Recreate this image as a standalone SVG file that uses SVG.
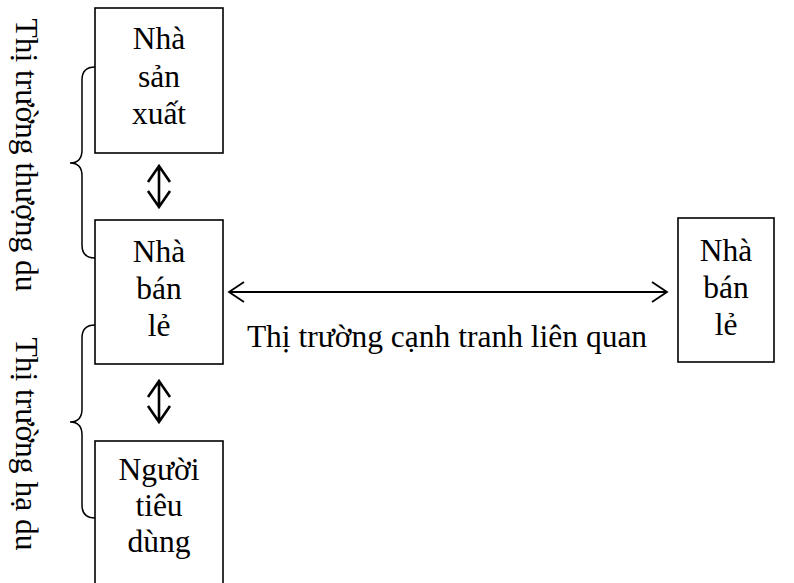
<svg xmlns="http://www.w3.org/2000/svg" width="794" height="583" viewBox="0 0 794 583">
<style>
.box{fill:#fff;stroke:#000;stroke-width:1.6}
.t{font-family:"Liberation Serif","Times New Roman",serif;font-size:31.5px;fill:#000;text-anchor:middle}
.ln{fill:none;stroke:#000;stroke-width:1.8}
.dbl{fill:none;stroke:#000;stroke-width:2.6}
.br{fill:none;stroke:#000;stroke-width:1.5}
</style>
<rect width="794" height="583" fill="#fff"/>
<g id="label-upstream"><text class="t" transform="translate(16,155) rotate(90)">Thị trường thượng du</text></g>
<g id="label-downstream"><text class="t" transform="translate(16,444) rotate(90)">Thị trường hạ du</text></g>
<g id="braces">
<path class="br" d="M95,67 C86,67 82,72 82,80 L82,150 C82,158 78,163 70,163 C78,163 82,168 82,176 L82,245 C82,253 86,258 95,258"/>
<path class="br" d="M95,325 C86,325 82,330 82,338 L82,409 C82,417 78,422 70,422 C78,422 82,427 82,435 L82,505 C82,513 86,518 95,518"/>
</g>
<g id="producer"><rect class="box" x="95" y="8" width="128" height="145"/>
<text class="t" x="159" y="49">Nhà</text><text class="t" x="159" y="87">sản</text><text class="t" x="159" y="124">xuất</text></g>
<g id="retailer-left"><rect class="box" x="95" y="220" width="128" height="144"/>
<text class="t" x="159" y="262">Nhà</text><text class="t" x="159" y="299">bán</text><text class="t" x="159" y="336">lẻ</text></g>
<g id="consumer"><rect class="box" x="95" y="441" width="128" height="160"/>
<text class="t" x="159" y="480">Người</text><text class="t" x="159" y="516">tiêu</text><text class="t" x="159" y="552">dùng</text></g>
<g id="retailer-right"><rect class="box" x="678" y="218" width="96" height="144"/>
<text class="t" x="726" y="261">Nhà</text><text class="t" x="726" y="298">bán</text><text class="t" x="726" y="335">lẻ</text></g>
<g id="connectors">
<path class="dbl" d="M159,166 L159,207 M148,182 L159,166 L170,182 M148,191 L159,207 L170,191"/>
<path class="dbl" d="M159,381 L159,422 M148,397 L159,381 L170,397 M148,406 L159,422 L170,406"/>
<path class="ln" d="M229,292 L667,292 M244,282 L229,292 L244,302 M652,282 L667,292 L652,302"/>
<text class="t" x="447" y="347">Thị trường cạnh tranh liên quan</text>
</g>
</svg>
